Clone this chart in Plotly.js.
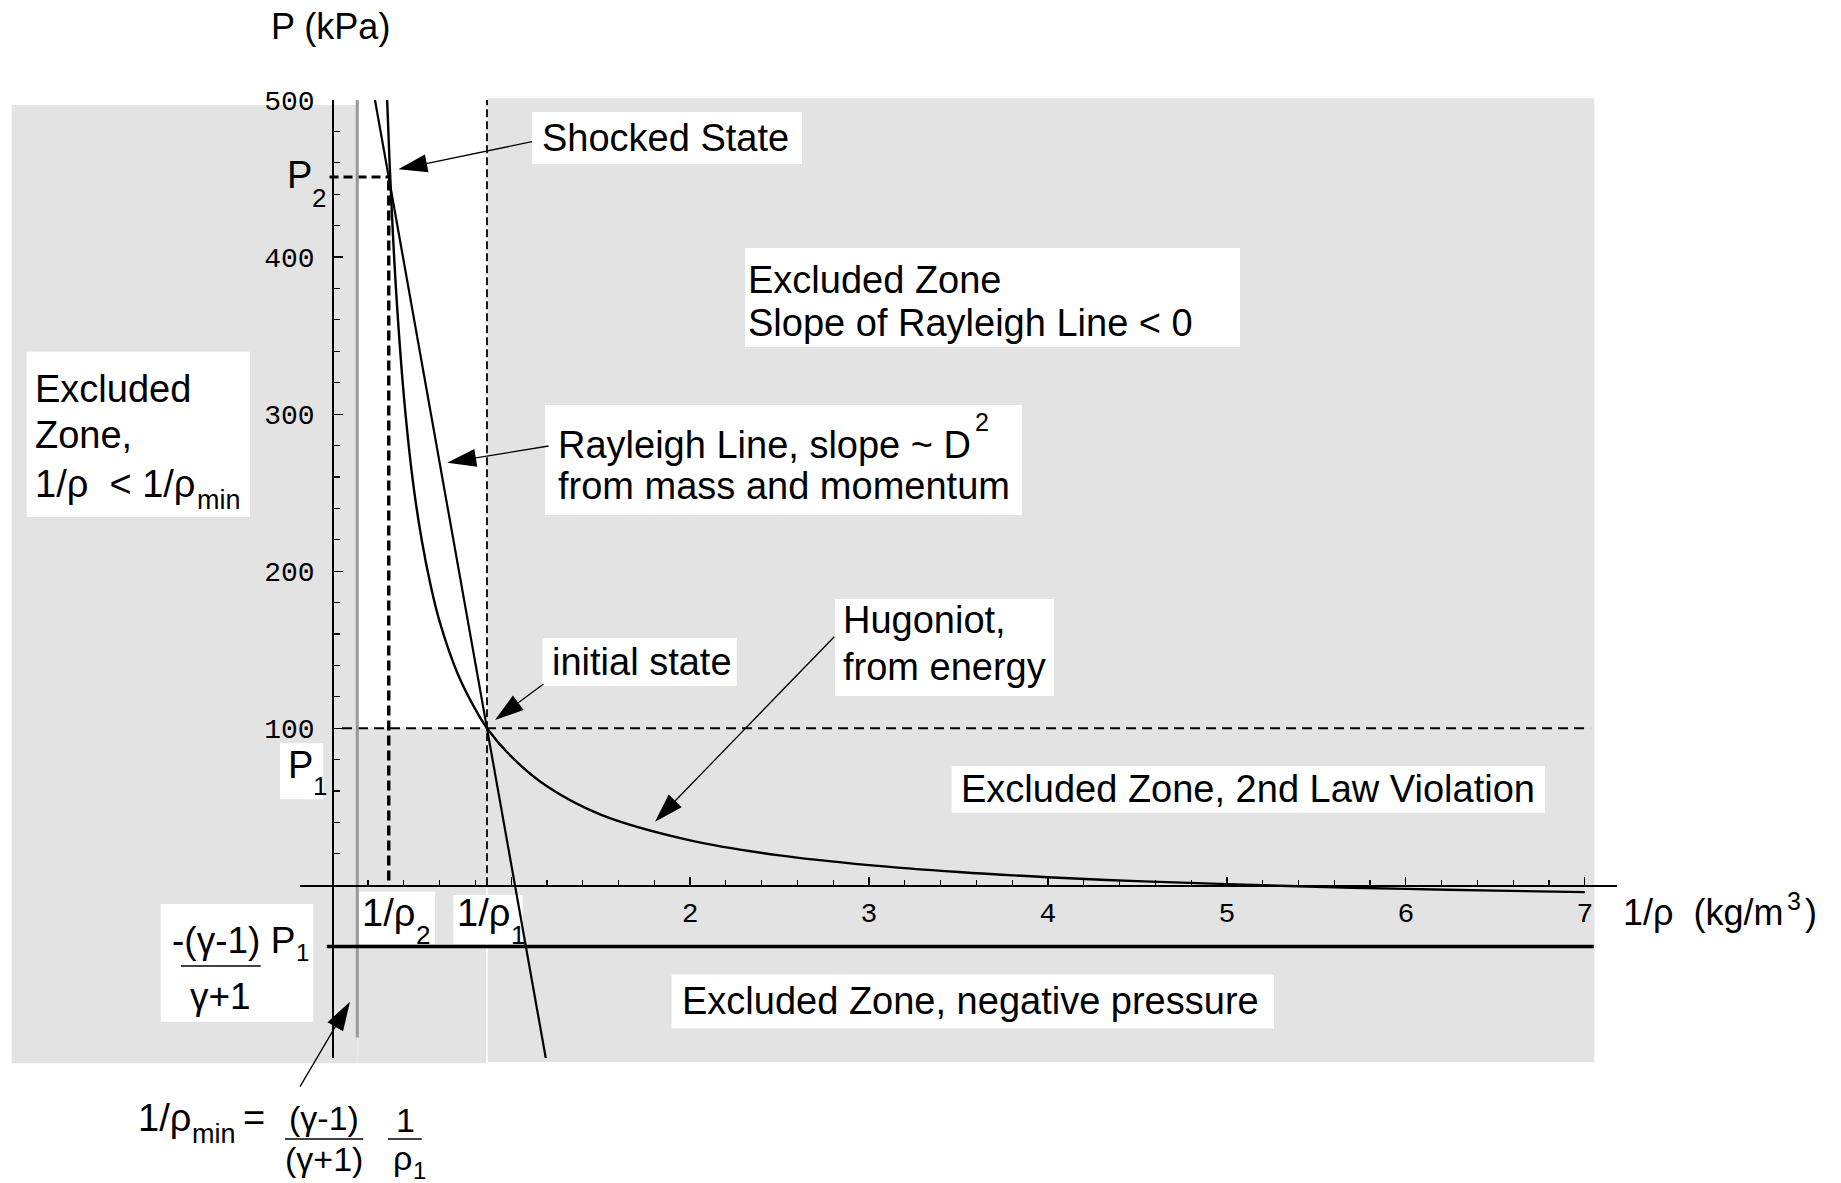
<!DOCTYPE html>
<html><head><meta charset="utf-8">
<script src="https://cdn.plot.ly/plotly-3.0.1.min.js"></script>
<style>html,body{margin:0;padding:0;background:#fff;} #chart{width:1841px;height:1183px;}</style>
</head><body><div id="chart"></div>
<script>
// ---------- values ----------
// Hugoniot curve (specific volume 1/rho, pressure in kPa)
const hugoniotV = [0.307, 0.32, 0.34, 0.36, 0.40, 0.45, 0.50, 0.55, 0.60, 0.70, 0.80, 0.865, 1.0, 1.2, 1.5, 2.0, 2.5, 3.0, 3.5, 4.0, 4.5, 5.0, 5.5, 6.0, 6.5, 7.0];
const hugoniotP = [500, 462, 413, 373, 312, 258, 220, 191, 168, 135, 112, 100, 82, 63, 45, 28.6, 19, 12.8, 8.4, 5.1, 2.6, 0.7, -1.0, -2.3, -3.4, -4.4];
// Rayleigh line end points
const rayleighV = [0.239, 1.195];
const rayleighP = [500, -111];
// reference states
const v1 = 0.865, v2 = 0.316, vMin = 0.14;
const P1 = 100, P2 = 451, Pneg = -39;
// extents of the guide lines
const p1LineV = [0.055, 7.03];
const p2LineV = [-0.015, v2];
const v2LineP = [3, P2];
const v1LineP = [0, 500];
const vMinLineP = [-97, 500];
const pNegLineV = [-0.03, 7.05];
// ticks
const xTickVals = [1, 2, 3, 4, 5, 6, 7];
const xTickText = ['', '2', '3', '4', '5', '6', '7'];
const yTickVals = [100, 200, 300, 400, 500];
const yTickText = ['100', '200', '300', '400', '500'];

// ---------- geometry ----------
const W = 1841, H = 1183;
const M = {l: 300, r: 224, t: 100, b: 125};
const PW = W - M.l - M.r, PH = H - M.t - M.b;
const XR = [-0.18, 7.18], YR = [-110, 500];
const pxX = x => (x - M.l) / PW;
const pxY = y => 1 - (y - M.t) / PH;
const dX = v => (v - XR[0]) / (XR[1] - XR[0]);
const dY = p => (p - YR[0]) / (YR[1] - YR[0]);
const toPx = v => M.l + dX(v) * PW;
const toPy = p => M.t + (1 - dY(p)) * PH;

const xMinor = [], yMinor = [];
for (let i = 1; i < 35; i++) { if (i % 5) xMinor.push(+(i * 0.2).toFixed(1)); }
for (let i = 1; i < 25; i++) { if (i % 5) yMinor.push(i * 20); }

const GRAY = '#e3e3e3';
const FONT = 'Liberation Sans, Arial, sans-serif';
const MONO = 'Liberation Mono, Courier New, monospace';

function rectPx(x0, y0, x1, y1, color) {
  return {type: 'rect', xref: 'paper', yref: 'paper', x0: pxX(x0), x1: pxX(x1), y0: pxY(y1), y1: pxY(y0),
          fillcolor: color, line: {width: 0}, layer: 'below'};
}
function linePx(x0, y0, x1, y1, w) {
  return {type: 'line', xref: 'paper', yref: 'paper', x0: pxX(x0), y0: pxY(y0), x1: pxX(x1), y1: pxY(y1),
          line: {color: '#000', width: w}, layer: 'above'};
}
function arrow(x0, y0, x1, y1) {
  const dx = x1 - x0, dy = y1 - y0, L = Math.hypot(dx, dy), ux = dx / L, uy = dy / L;
  const hl = 29, hw = 9;
  const bx = x1 - ux * hl, by = y1 - uy * hl, nx = -uy, ny = ux;
  return [
    linePx(x0, y0, bx + ux * 3, by + uy * 3, 1.3),
    {type: 'path', xref: 'paper', yref: 'paper', layer: 'above', fillcolor: '#000', line: {width: 0},
     path: `M ${pxX(x1)} ${pxY(y1)} L ${pxX(bx + nx * hw)} ${pxY(by + ny * hw)} L ${pxX(bx - nx * hw)} ${pxY(by - ny * hw)} Z`}
  ];
}
// text piece: left (or centre) x, baseline y, font size, all in pixels
function t(text, x, base, size, anchor) {
  const top = base - 0.905 * size;
  return {xref: 'paper', yref: 'paper', x: pxX(x), y: pxY(top), xanchor: anchor || 'left', yanchor: 'top',
          text: text, showarrow: false, font: {family: FONT, size: size, color: '#000'}, borderpad: 0, borderwidth: 0};
}

const shapes = [
  // excluded zones (gray)
  rectPx(11.7, 105, toPx(vMin), 1063.3, GRAY),
  rectPx(toPx(vMin), toPy(P1), toPx(v1) - 0.8, 1063.3, GRAY),
  rectPx(toPx(v1) + 0.8, 98.3, 1594.3, 1062, GRAY),
  // white label boxes
  rectPx(532, 112, 802, 164, '#fff'),
  rectPx(745, 248, 1240, 347, '#fff'),
  rectPx(26.7, 351.7, 250, 517, '#fff'),
  rectPx(545, 405, 1022, 515, '#fff'),
  rectPx(542.5, 638, 736.7, 686, '#fff'),
  rectPx(835, 599, 1054, 696, '#fff'),
  rectPx(951.7, 766, 1545, 812.7, '#fff'),
  rectPx(671.6, 974.5, 1274, 1028.5, '#fff'),
  rectPx(280, 743.3, 323.3, 799.3, '#fff'),
  rectPx(359.3, 891.7, 435, 944, '#fff'),
  rectPx(453.3, 895, 522.7, 944, '#fff'),
  rectPx(160.7, 904, 313.3, 1021.7, '#fff'),
  // fraction bars
  linePx(181, 966, 260.7, 966, 1.6),
  linePx(285, 1139, 363.3, 1139, 1.6),
  linePx(388, 1139, 421.7, 1139, 1.6),
  // arrows
  ...arrow(532, 141.7, 398.3, 169.3),
  ...arrow(548.6, 446, 447.2, 462.7),
  ...arrow(543.5, 684, 495, 720),
  ...arrow(834.3, 636.7, 655, 821.7),
  ...arrow(300, 1086.7, 350, 1001.7)
];

const annotations = [
  // axis titles
  t('P (kPa)', 330, 39, 36, 'center'),
  t('1/ρ\u00a0 (kg/m', 1622.7, 925, 36),
  t('3', 1787, 910, 25),
  t(')', 1805, 925, 36),
  // zone labels
  t('Shocked State', 542, 151, 38),
  t('Excluded Zone', 748, 293.5, 38),
  t('Slope of Rayleigh Line &lt; 0', 748, 336, 38),
  t('Excluded', 35, 402.8, 38),
  t('Zone,', 35, 448.6, 38),
  t('1/ρ\u00a0 &lt; 1/ρ', 35, 497.5, 38),
  t('min', 196.7, 509, 27),
  t('Rayleigh Line, slope ~ D', 558, 458, 38),
  t('2', 975, 431, 25),
  t('from mass and momentum', 558, 499, 38),
  t('initial state', 552, 675, 38),
  t('Hugoniot,', 842.7, 633, 38),
  t('from energy', 842.7, 680, 38),
  t('Excluded Zone, 2nd Law Violation', 960.5, 802, 38),
  t('Excluded Zone, negative pressure', 682, 1014.5, 38),
  // state labels
  t('P', 286.7, 188.3, 38),
  t('2', 311.5, 206.7, 26),
  t('P', 287.5, 778, 38),
  t('1', 313, 795, 26),
  t('1/ρ', 361.7, 926, 38),
  t('2', 415.5, 943.3, 26),
  t('1/ρ', 456.7, 926, 38),
  t('1', 510.5, 943.3, 26),
  // -(γ-1)P1/(γ+1)
  t('-(γ-1) P', 171.7, 953.5, 37),
  t('1', 295.5, 961, 24),
  t('γ+1', 220, 1009, 37, 'center'),
  // 1/ρmin formula
  t('1/ρ', 138.3, 1131.7, 38),
  t('min', 191.7, 1143.3, 27),
  t('=', 243, 1131.7, 38),
  t('(γ-1)', 324, 1129.5, 34, 'center'),
  t('(γ+1)', 324, 1171, 34, 'center'),
  t('1', 405, 1132, 34, 'center'),
  t('ρ', 393, 1170, 34),
  t('1', 413, 1179, 24)
];

const ln = (x, y, w, color, dash, shape) => ({type: 'scatter', mode: 'lines', x: x, y: y,
  line: {color: color, width: w, dash: dash || 'solid', shape: shape || 'linear'}, hoverinfo: 'skip', showlegend: false});

const traces = [
  ln(p1LineV, [P1, P1], 2, '#000', '10px,6px'),
  ln([v1, v1], v1LineP, 1.8, '#000', '8px,4px'),
  ln([v2, v2], v2LineP, 3.4, '#000', '10px,5px'),
  ln(p2LineV, [P2, P2], 3, '#000', '9px,5px'),
  ln([vMin, vMin], vMinLineP, 3, '#999999'),
  ln(pNegLineV, [Pneg, Pneg], 3.5, '#000'),
  ln(rayleighV, rayleighP, 2.2, '#000'),
  ln(hugoniotV, hugoniotP, 2.4, '#000', 'solid', 'spline')
];

const axisCommon = {showline: true, linecolor: '#000', linewidth: 1.6, showgrid: false, zeroline: false,
  ticks: 'inside', tickwidth: 1.2, tickcolor: '#000', tickmode: 'array', fixedrange: true, automargin: false,
  tickfont: {family: MONO, size: 28, color: '#000'}, anchor: 'free'};

const layout = {
  width: W, height: H, margin: M, paper_bgcolor: '#fff', plot_bgcolor: 'rgba(0,0,0,0)', showlegend: false,
  xaxis: Object.assign({}, axisCommon, {range: XR, position: dY(0), ticklen: 8, tickvals: xTickVals, ticktext: xTickText,
    ticklabelstandoff: 2,
    minor: {tickmode: 'array', tickvals: xMinor, ticks: 'inside', ticklen: 5, tickwidth: 1.2, tickcolor: '#000', showgrid: false}}),
  yaxis: Object.assign({}, axisCommon, {range: YR, position: dX(0), ticklen: 9, tickvals: yTickVals, ticktext: yTickText,
    ticklabelstandoff: 12,
    minor: {tickmode: 'array', tickvals: yMinor, ticks: 'inside', ticklen: 6.5, tickwidth: 1.2, tickcolor: '#000', showgrid: false}}),
  shapes: shapes,
  annotations: annotations
};

Plotly.newPlot('chart', traces, layout, {staticPlot: true, displayModeBar: false});
</script>
</body></html>
